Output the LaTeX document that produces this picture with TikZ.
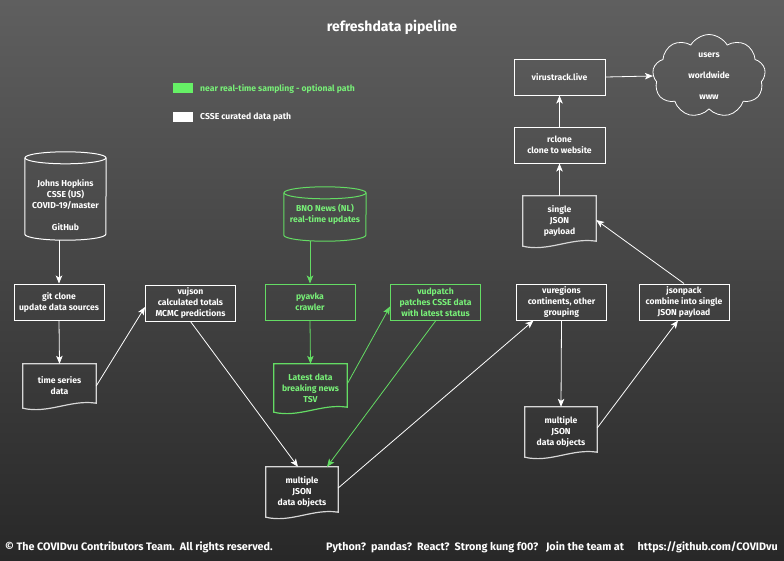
\documentclass[tikz,border=0pt]{standalone}
\usepackage{fontspec}
\setmainfont{Fira Sans}
\usetikzlibrary{shapes.geometric,shapes.symbols,arrows.meta,calc}
\definecolor{grn}{RGB}{100,220,100}
\definecolor{gtxt}{RGB}{120,240,120}
\definecolor{gfill}{RGB}{102,240,102}
\definecolor{docgray}{RGB}{215,215,215}
\definecolor{bgtop}{RGB}{95,95,95}
\definecolor{bgbot}{RGB}{40,40,40}
\newcommand\nfont{\fontsize{8.6}{11}\selectfont\bfseries}
\newcommand\ffont{\fontsize{10.8}{12}\selectfont\bfseries}
\newcommand\docpath[2]{\draw[#1] (#2.north west) -- (#2.north east) -- ($(#2.south east)+(0,-5)$) .. controls ($(#2.south east)+(-25,-9)$) and ($(#2.south west)+(25,6)$) .. (#2.south west) -- cycle;}
\newcommand\cylpath[3]{%
  \draw[#1] ($(#2.north west)+(0,6)$) -- ($(#2.south west)+(0,-6)$) arc[start angle=180,end angle=360,x radius=#3pt,y radius=6pt] -- ($(#2.north east)+(0,6)$);
  \draw[#1] ($(#2.north)+(0,6)$) ellipse[x radius=#3pt,y radius=6pt];}
\tikzset{
  box/.style={draw=white,line width=1pt,minimum width=90pt,minimum height=36pt,align=center,text=white,font=\nfont,inner sep=1pt},
  gbox/.style={box,draw=grn,text=gtxt},
  docn/.style={minimum width=73pt,minimum height=50pt,align=center,text=white,font=\nfont,inner sep=1pt},
  gdocn/.style={docn,text=gtxt},
  wline/.style={draw=docgray,line width=1.2pt},
  gline/.style={draw=grn,line width=1.2pt},
  arr/.style={-{Stealth[length=8pt,width=6.5pt,inset=2pt]},line width=0.8pt,white},
  garr/.style={arr,grn},
  txt/.style={text=white,font=\nfont,align=center,inner sep=0pt},
  foot/.style={text=white,font=\ffont,inner sep=0pt},
}
\begin{document}
\begin{tikzpicture}[x=1pt,y=-1pt]
\shade[top color=bgtop,bottom color=bgbot] (0,0) rectangle (784,560);
\useasboundingbox (0,0) rectangle (784,560);

% title
\node[text=white,font=\fontsize{14}{16}\selectfont\bfseries] (title) at (392,27) {refreshdata pipeline};

% legend
\fill[gfill] (173,83) rectangle (193,93);
\node[anchor=west,text=gtxt,font=\nfont,inner sep=0pt] (leg1) at (200,89) {near real-time sampling - optional path};
\fill[white] (173,112) rectangle (193,122);
\node[anchor=west,text=white,font=\nfont,inner sep=0pt] (leg2) at (200,117) {CSSE curated data path};

% JHU cylinder
\node[minimum width=81pt,minimum height=88pt,inner sep=0pt] (jhu) at (65.5,196) {};
\cylpath{white,line width=1pt}{jhu}{40.5}
\node[txt] (jhut) at (65.5,205) {Johns Hopkins\\CSSE (US)\\COVID-19/master\\[11pt]GitHub};

% BNO cylinder
\node[minimum width=82pt,minimum height=54pt,inner sep=0pt,align=center,text=gtxt,font=\nfont] (bno) at (325,214) {\\[-3pt]BNO News (NL)\\real-time updates};
\cylpath{grn,line width=1pt}{bno}{41}

% boxes
\node[box] (git) at (59,302) {git clone\\update data sources};
\node[box] (vujson) at (190.5,303) {vujson\\calculated totals\\MCMC predictions};
\node[gbox] (pyavka) at (310,302) {pyavka\\crawler};
\node[gbox] (vudpatch) at (435.5,302.5) {vudpatch\\patches CSSE data\\with latest status};
\node[box] (vureg) at (561.5,302) {vuregions\\continents, other\\grouping};
\node[box] (jsonpack) at (684,302) {jsonpack\\combine into single\\JSON payload};
\node[box,minimum width=91pt] (rclone) at (559.5,145) {rclone\\clone to website};
\node[box,minimum width=91pt] (vt) at (559.5,77) {virustrack.live};

% documents
\node[docn,minimum height=44pt] (ts) at (59.5,386) {time series\\data};
\docpath{wline}{ts}
\node[gdocn,minimum height=48pt] (latest) at (310.5,388) {Latest data\\breaking news\\TSV};
\docpath{gline}{latest}
\node[docn,minimum width=72pt] (mj) at (302,492) {multiple\\JSON\\data objects};
\docpath{wline}{mj}
\node[docn,minimum width=72pt] (mj2) at (561,432) {multiple\\JSON\\data objects};
\docpath{wline}{mj2}
\node[docn] (sj) at (559.5,221) {single\\JSON\\payload};
\docpath{wline}{sj}

% cloud
\node[cloud,cloud puffs=9,cloud puff arc=120,aspect=1.6,draw=white,line width=0.8pt,minimum width=113pt,minimum height=73pt,inner sep=0pt,align=center,text=white,font=\nfont] (cloud) at (709,76) {users\\[10pt]worldwide\\[10pt]www};

% connectors
\draw[arr] (git.north |- jhu.south) -- (git.north);
\draw[arr] (git.south) -- (ts.north);
\draw[arr] (ts.east) -- ($(vujson.west)+(0,4)$);
\draw[arr] (vujson.south) -- ($(mj.north)+(-4,0)$);
\draw[garr] (pyavka.north |- bno.south) -- (pyavka.north);
\draw[garr] (pyavka.south) -- (latest.north);
\draw[garr] ($(latest.east)+(0,-4)$) -- ($(vudpatch.west)+(0,4)$);
\draw[garr] (vudpatch.south) -- ($(mj.north)+(25,0)$);
\draw[arr] ($(mj.east)+(0,-4)$) -- ($(vureg.south)+(-28,0)$);
\draw[arr] (vureg.south) -- (mj2.north);
\draw[arr] ($(mj2.east)+(0,-4)$) -- ($(jsonpack.south)+(-6,0)$);
\draw[arr] (jsonpack.north) -- ($(sj.east)+(0,-1)$);
\draw[arr] (sj.north) -- (rclone.south);
\draw[arr] (rclone.north) -- (vt.south);
\draw[arr] (vt.east) -- (cloud.west);

% footer
\node[anchor=west,foot] (f1) at (5,547) {© The COVIDvu Contributors Team.\ \ All rights reserved.};
\node[anchor=west,foot] (f2) at (326,547) {Python?\ \ pandas?\ \ React?\ \ Strong kung f00?\ \ \ Join the team at};
\node[anchor=east,foot] (f3) at (778,547) {https://github.com/COVIDvu};
\end{tikzpicture}
\end{document}
